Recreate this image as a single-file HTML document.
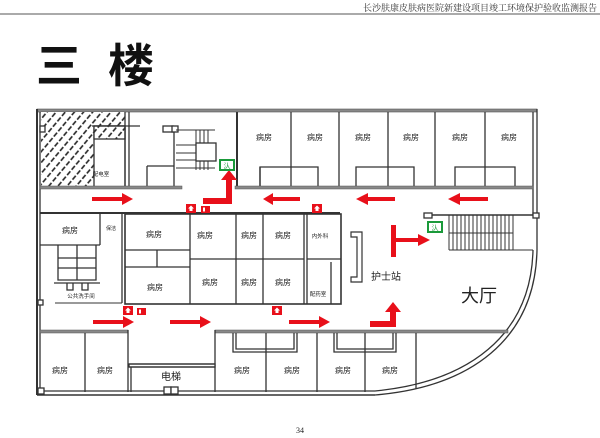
<!DOCTYPE html>
<html><head><meta charset="utf-8"><style>
html,body{margin:0;padding:0;background:#fff;}
svg{display:block;font-family:"Liberation Sans","Noto Sans CJK SC",sans-serif;}
</style></head><body>
<svg width="600" height="438" viewBox="0 0 600 438" xmlns="http://www.w3.org/2000/svg">
<defs>
<pattern id="h" width="7" height="7" patternUnits="userSpaceOnUse" patternTransform="rotate(-50)">
<rect width="7" height="7" fill="#fff"/><line x1="0" y1="3" x2="7" y2="3" stroke="#222" stroke-width="1.6" stroke-dasharray="5 2"/>
</pattern>
</defs>
<text x="597" y="11" font-size="9" text-anchor="end" font-family="Liberation Serif,'Noto Serif CJK SC',serif" fill="#333">长沙肤康皮肤病医院新建设项目竣工环境保护验收监测报告</text>
<line x1="0" y1="14" x2="600" y2="14" stroke="#555" stroke-width="1"/>
<text x="36" y="82" font-size="46" font-weight="bold" fill="#111" letter-spacing="26">三楼</text>

<g stroke="#333" stroke-width="1.3" fill="none">
<!-- outer walls -->
<rect x="37" y="109" width="500" height="3" fill="#888" stroke="#555" stroke-width="0.6"/>
<line x1="37" y1="109" x2="37" y2="395" stroke-width="2"/>
<line x1="40" y1="112" x2="40" y2="392"/>
<line x1="537" y1="109" x2="537" y2="250"/>
<line x1="533" y1="112" x2="533" y2="215"/>
<path d="M537,250 C535,340 470,387 375,395" stroke-width="1.3"/>
<path d="M533,250 C531,336 468,382 375,391"/>
<line x1="37" y1="395" x2="375" y2="395" stroke-width="1.5"/>
<line x1="40" y1="391" x2="375" y2="391"/>
<!-- hatch -->
<rect x="41" y="112" width="84" height="75" fill="url(#h)" stroke="none"/>
<rect x="94" y="126" width="31" height="61" fill="#fff"/>
<rect x="94" y="126" width="31" height="13" fill="url(#h)"/>
<line x1="125" y1="112" x2="125" y2="187"/>
<line x1="129" y1="112" x2="129" y2="187"/>
<line x1="92" y1="126" x2="140" y2="126"/>
<rect x="40" y="126" width="5" height="6" fill="#fff"/>
<!-- stair top-left -->
<rect x="163" y="126" width="10" height="6" fill="#fff"/>
<rect x="172" y="126" width="6" height="6" fill="#fff"/>
<line x1="147" y1="166" x2="174" y2="166"/>
<line x1="147" y1="166" x2="147" y2="187"/>
<line x1="174" y1="132" x2="174" y2="187"/>
<g stroke-width="1">
<line x1="176" y1="145" x2="215" y2="145"/><line x1="176" y1="153" x2="215" y2="153"/><line x1="176" y1="160" x2="215" y2="160"/><line x1="176" y1="168" x2="215" y2="168"/>
<line x1="196" y1="130" x2="196" y2="170"/><line x1="200" y1="130" x2="200" y2="170"/><line x1="204" y1="130" x2="204" y2="170"/><line x1="208" y1="130" x2="208" y2="170"/>
<line x1="176" y1="130" x2="215" y2="130"/>
</g>
<rect x="196" y="143" width="20" height="18" fill="#fff"/>
<line x1="237" y1="112" x2="237" y2="187" stroke-width="2"/>
<!-- top rooms -->
<line x1="291" y1="112" x2="291" y2="187"/><line x1="339" y1="112" x2="339" y2="187"/><line x1="388" y1="112" x2="388" y2="187"/><line x1="435" y1="112" x2="435" y2="187"/><line x1="485" y1="112" x2="485" y2="187"/>
<path d="M260,187 V167 H318 V187"/><path d="M356,187 V167 H414 V187"/><path d="M455,187 V167 H515 V187"/>
<line x1="260" y1="167" x2="260" y2="187"/>
<!-- corridor walls -->
<rect x="40" y="186" width="142" height="3" fill="#888" stroke="#555" stroke-width="0.5"/>
<rect x="235" y="186" width="298" height="3" fill="#888" stroke="#555" stroke-width="0.5"/>
<line x1="40" y1="213" x2="340" y2="213" stroke-width="2"/>
<!-- middle left -->
<line x1="100" y1="213" x2="100" y2="245"/>
<line x1="122" y1="213" x2="122" y2="303"/>
<line x1="40" y1="245" x2="100" y2="245"/>
<path d="M58,245 V280 H96 V245 M77,245 V280 M58,258 H96 M58,268 H96"/>
<path d="M54,283 H100 M67,283 V290 H73 V283 M82,283 V290 H88 V283"/>
<line x1="55" y1="303" x2="122" y2="303" stroke-width="1"/>
<rect x="38" y="300" width="5" height="5" fill="#fff"/>
<!-- center block -->
<rect x="125" y="214" width="216" height="90" stroke-width="1.6"/>
<line x1="190" y1="214" x2="190" y2="304"/><line x1="236" y1="214" x2="236" y2="304"/><line x1="263" y1="214" x2="263" y2="304"/><line x1="304" y1="214" x2="304" y2="304"/><line x1="307" y1="214" x2="307" y2="304"/>
<line x1="190" y1="259" x2="304" y2="259"/><line x1="307" y1="259" x2="341" y2="259"/>
<line x1="125" y1="250" x2="190" y2="250"/><line x1="125" y1="267" x2="190" y2="267"/><line x1="157" y1="250" x2="157" y2="267"/>
<line x1="331" y1="262" x2="331" y2="304"/>
<!-- nurse bracket -->
<path d="M351,232 H362 V282 H351 V277 H357 V237 H351 Z" stroke-width="1.2"/>
<!-- right stair -->
<line x1="425" y1="215" x2="537" y2="215" stroke-width="1.5"/>
<rect x="424" y="213" width="8" height="5" fill="#fff"/><rect x="533" y="213" width="6" height="5" fill="#fff"/>
<line x1="449" y1="250" x2="533" y2="250" stroke-width="1"/>
<line x1="449" y1="233" x2="513" y2="233" stroke-width="1"/>
<g stroke-width="1">
<line x1="449" y1="215" x2="449" y2="250"/><line x1="453" y1="215" x2="453" y2="250"/><line x1="457" y1="215" x2="457" y2="250"/><line x1="461" y1="215" x2="461" y2="250"/><line x1="465" y1="215" x2="465" y2="250"/><line x1="469" y1="215" x2="469" y2="250"/><line x1="473" y1="215" x2="473" y2="250"/><line x1="477" y1="215" x2="477" y2="250"/><line x1="481" y1="215" x2="481" y2="250"/><line x1="485" y1="215" x2="485" y2="250"/><line x1="489" y1="215" x2="489" y2="250"/><line x1="493" y1="215" x2="493" y2="250"/><line x1="497" y1="215" x2="497" y2="250"/><line x1="501" y1="215" x2="501" y2="250"/><line x1="505" y1="215" x2="505" y2="250"/><line x1="509" y1="215" x2="509" y2="250"/><line x1="513" y1="215" x2="513" y2="250"/>
</g>
<!-- lower corridor -->
<rect x="40" y="330" width="88" height="3" fill="#888" stroke="#555" stroke-width="0.5"/>
<rect x="215" y="330" width="293" height="3" fill="#888" stroke="#555" stroke-width="0.5"/>
<line x1="128" y1="330" x2="128" y2="392"/><line x1="85" y1="333" x2="85" y2="392"/>
<line x1="215" y1="330" x2="215" y2="392"/>
<rect x="129" y="364" width="86" height="3" fill="#fff"/>
<line x1="129" y1="364" x2="215" y2="364"/><line x1="129" y1="367" x2="215" y2="367"/><line x1="131" y1="367" x2="131" y2="392"/>
<rect x="164" y="387" width="7" height="7" fill="#fff"/><rect x="171" y="387" width="7" height="7" fill="#fff"/>
<rect x="38" y="388" width="6" height="6" fill="#fff"/>
<line x1="266" y1="333" x2="266" y2="392"/><line x1="317" y1="333" x2="317" y2="392"/><line x1="365" y1="333" x2="365" y2="392"/><line x1="416" y1="333" x2="416" y2="389"/>
<path d="M233,333 V352 H297 V333 M236,333 V349 H294 V333"/>
<path d="M334,333 V352 H396 V333 M337,333 V349 H393 V333"/>
</g>

<!-- labels -->
<g font-size="8" fill="#222" text-anchor="middle">
<text x="101" y="176" font-size="5.5">配电室</text>
<text x="264" y="140">病房</text><text x="315" y="140">病房</text><text x="363" y="140">病房</text><text x="411" y="140">病房</text><text x="460" y="140">病房</text><text x="509" y="140">病房</text>
<text x="70" y="233">病房</text><text x="111" y="230" font-size="5">保洁</text>
<text x="154" y="237">病房</text><text x="205" y="238">病房</text><text x="249" y="238">病房</text><text x="283" y="238">病房</text>
<text x="320" y="238" font-size="5.5">内外科</text>
<text x="155" y="290">病房</text><text x="210" y="285">病房</text><text x="249" y="285">病房</text><text x="283" y="285">病房</text>
<text x="318" y="296" font-size="5.5">配药室</text>
<text x="81" y="298" font-size="5.5">公共洗手间</text>
<text x="386" y="280" font-size="10">护士站</text>
<text x="479" y="302" font-size="18">大厅</text>
<text x="60" y="373">病房</text><text x="105" y="373">病房</text><text x="171" y="380" font-size="10">电梯</text>
<text x="242" y="373">病房</text><text x="292" y="373">病房</text><text x="343" y="373">病房</text><text x="390" y="373">病房</text>
</g>

<!-- red arrows -->
<g fill="#e8101a" stroke="none">
<polygon points="92,197 122,197 122,193 133,199 122,205 122,201 92,201"/>
<polygon points="203,198 226,198 226,180 221,180 229,170 237,180 232,180 232,204 203,204"/>
<polygon points="300,197 273,197 273,193 263,199 273,205 273,201 300,201"/>
<polygon points="395,197 368,197 368,193 356,199 368,205 368,201 395,201"/>
<polygon points="488,197 460,197 460,193 448,199 460,205 460,201 488,201"/>
<rect x="391" y="225" width="5" height="32"/>
<polygon points="396,238 418,238 418,234 430,240 418,246 418,242 396,242"/>
<polygon points="93,320 123,320 123,316 134,322 123,328 123,324 93,324"/>
<polygon points="170,320 200,320 200,316 211,322 200,328 200,324 170,324"/>
<polygon points="289,320 319,320 319,316 330,322 319,328 319,324 289,324"/>
<polygon points="370,321 390,321 390,312 385,312 393,302 401,312 396,312 396,327 370,327"/>
<rect x="186" y="204" width="10" height="9"/><rect x="201" y="206" width="9" height="7"/>
<rect x="312" y="204" width="10" height="9"/>
<rect x="123" y="306" width="10" height="9"/><rect x="137" y="308" width="9" height="7"/>
<rect x="272" y="306" width="10" height="9"/>
</g>
<g fill="#fff">
<polygon points="191,205.5 194,208.5 192.5,208.5 192.5,211 189.5,211 189.5,208.5 188,208.5"/>
<polygon points="317,205.5 320,208.5 318.5,208.5 318.5,211 315.5,211 315.5,208.5 314,208.5"/>
<polygon points="128,307.5 131,310.5 129.5,310.5 129.5,313 126.5,313 126.5,310.5 125,310.5"/>
<polygon points="277,307.5 280,310.5 278.5,310.5 278.5,313 275.5,313 275.5,310.5 274,310.5"/>
<rect x="203" y="207.5" width="2" height="4"/><rect x="139" y="309.5" width="2" height="4"/>
</g>
<!-- green exit signs -->
<g>
<rect x="219" y="159" width="16" height="12" fill="#1a9a3a"/><rect x="221" y="161" width="12" height="8" fill="#fff"/>
<text x="227" y="168" font-size="7" fill="#1a9a3a" text-anchor="middle">汄</text>
<rect x="427" y="221" width="16" height="12" fill="#1a9a3a"/><rect x="429" y="223" width="12" height="8" fill="#fff"/>
<text x="435" y="230" font-size="7" fill="#1a9a3a" text-anchor="middle">汄</text>
</g>
<text x="300" y="433" font-size="8" text-anchor="middle" font-family="Liberation Serif,serif" fill="#222">34</text>
</svg>
</body></html>
